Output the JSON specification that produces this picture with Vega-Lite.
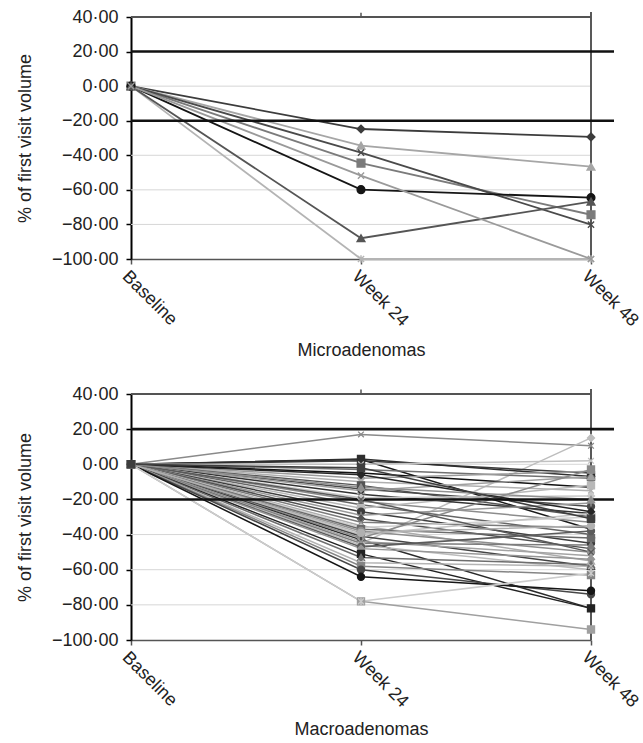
{
  "$schema": "https://vega.github.io/schema/vega-lite/v6.json",
  "padding": {"left": 16, "top": 8, "right": 0, "bottom": 0},
  "spacing": 25,
  "config": {
    "view": {"stroke": null},
    "font": "Liberation Sans",
    "axis": {"labelFont": "Liberation Sans", "titleFont": "Liberation Sans", "labelOverlap": false},
    "axisY": {"titleFontSize": 18, "titleFontWeight": "normal", "titleColor": "#222", "titlePadding": 17,
      "values": [-100, -80, -60, -40, -20, 0, 20, 40], "labelOverlap": false, "labelFlush": false, "labelExpr": "replace(format(datum.value, '.2f'), '.', '·')",
      "labelFontSize": 18, "labelColor": "#222", "labelPadding": 8, "domainColor": "#000", "domainWidth": 2, "tickColor": "#000", "tickWidth": 1.5, "tickSize": 5, "grid": false},
    "axisX": {"titleX": 230, "titleAlign": "center", "titleFontSize": 18, "titleFontWeight": "normal", "titleColor": "#222",
      "labelAngle": 45, "labelAlign": "left", "labelBaseline": "top", "labelFontSize": 18, "labelColor": "#222", "labelPadding": 3, "labelOverlap": false,
      "domainColor": "#555", "domainWidth": 1.5, "tickColor": "#555", "tickWidth": 1.5, "tickSize": 5, "grid": false}
  },
  "resolve": {"scale": {"stroke": "independent", "fill": "independent", "shape": "independent"}},
  "vconcat": [
    {
      "width": 483,
      "height": 242,
      "data": {"values": [
        {"series": "m1", "visit": "Baseline", "value": 0}, {"series": "m1", "visit": "Week 24", "value": -24.8}, {"series": "m1", "visit": "Week 48", "value": -29.4},
        {"series": "m2", "visit": "Baseline", "value": 0}, {"series": "m2", "visit": "Week 24", "value": -44.5}, {"series": "m2", "visit": "Week 48", "value": -74.4},
        {"series": "m3", "visit": "Baseline", "value": 0}, {"series": "m3", "visit": "Week 24", "value": -34.4}, {"series": "m3", "visit": "Week 48", "value": -46.6},
        {"series": "m4", "visit": "Baseline", "value": 0}, {"series": "m4", "visit": "Week 24", "value": -38.5}, {"series": "m4", "visit": "Week 48", "value": -80.1},
        {"series": "m5", "visit": "Baseline", "value": 0}, {"series": "m5", "visit": "Week 24", "value": -100}, {"series": "m5", "visit": "Week 48", "value": -100},
        {"series": "m6", "visit": "Baseline", "value": 0}, {"series": "m6", "visit": "Week 24", "value": -59.9}, {"series": "m6", "visit": "Week 48", "value": -64.5},
        {"series": "m7", "visit": "Baseline", "value": 0}, {"series": "m7", "visit": "Week 24", "value": -88}, {"series": "m7", "visit": "Week 48", "value": -66.8},
        {"series": "m8", "visit": "Baseline", "value": 0}, {"series": "m8", "visit": "Week 24", "value": -51.8}, {"series": "m8", "visit": "Week 48", "value": -100}
      ]},
      "layer": [
        {
          "data": {"values": [{"g": 0}, {"g": -40}, {"g": -60}, {"g": -80}]},
          "mark": {"type": "rule", "color": "#d6d6d6", "strokeWidth": 1},
          "encoding": {
            "y": {"field": "g", "type": "quantitative", "scale": {"domain": [-100, 40], "nice": false, "zero": false}, "title": "% of first visit volume"},
            "x": {"datum": "Baseline", "type": "ordinal", "scale": {"type": "point", "domain": ["Baseline", "Week 24", "Week 48"], "range": [0, 460], "padding": 0},
              "title": "Microadenomas", "axis": {"titlePadding": 12}},
            "x2": {"datum": "Week 48"}
          }
        },
        {
          "mark": {"type": "rule", "color": "#5a5a5a", "strokeWidth": 1.5},
          "encoding": {
            "x": {"datum": "Week 48", "type": "ordinal", "title": "Microadenomas"},
            "y": {"datum": 42.5, "type": "quantitative", "title": "% of first visit volume"},
            "y2": {"datum": -100}
          }
        },
        {
          "mark": {"type": "rule", "color": "#555555", "strokeWidth": 1.5},
          "encoding": {
            "x": {"datum": "Baseline", "type": "ordinal", "title": "Microadenomas"},
            "x2": {"datum": "Week 48"},
            "y": {"datum": 40, "type": "quantitative", "title": "% of first visit volume"}
          }
        },
        {
          "data": {"values": [{"v": "Week 24"}]},
          "mark": {"type": "rule", "color": "#555555", "strokeWidth": 1.5},
          "encoding": {
            "x": {"field": "v", "type": "ordinal", "title": "Microadenomas"},
            "y": {"datum": 40, "type": "quantitative", "title": "% of first visit volume"},
            "y2": {"datum": 42.5}
          }
        },
        {
          "mark": {"type": "line", "strokeWidth": 1.8},
          "encoding": {
            "x": {"field": "visit", "type": "ordinal", "title": "Microadenomas"},
            "y": {"field": "value", "type": "quantitative", "title": "% of first visit volume"},
            "stroke": {"field": "series", "type": "nominal", "legend": null,
              "scale": {"domain": ["m1","m2","m3","m4","m5","m6","m7","m8"], "range": ["#3c3c3c","#7b7b7b","#a6a6a6","#4a4a4a","#b4b4b4","#151515","#555555","#9a9a9a"]}},
            "detail": {"field": "series"}
          }
        },
        {
          "data": {"values": [{"t": 20}, {"t": -20}]},
          "mark": {"type": "rule", "color": "#111", "strokeWidth": 2.6},
          "encoding": {"y": {"field": "t", "type": "quantitative", "title": "% of first visit volume"}}
        },
        {
          "mark": {"type": "point", "filled": true, "opacity": 1, "size": 60, "strokeWidth": 1.4},
          "encoding": {
            "x": {"field": "visit", "type": "ordinal", "title": "Microadenomas"},
            "y": {"field": "value", "type": "quantitative", "title": "% of first visit volume"},
            "shape": {"field": "series", "type": "nominal", "legend": null,
              "scale": {"domain": ["m1","m2","m3","m4","m5","m6","m7","m8"], "range": ["diamond","square","triangle-up","M-0.8,-0.8L0.8,0.8M-0.8,0.8L0.8,-0.8","M-0.8,-0.8L0.8,0.8M-0.8,0.8L0.8,-0.8M0,-1L0,1","circle","triangle-up","M-0.8,-0.8L0.8,0.8M-0.8,0.8L0.8,-0.8"]}},
            "fill": {"field": "series", "type": "nominal", "legend": null,
              "scale": {"domain": ["m1","m2","m3","m4","m5","m6","m7","m8"], "range": ["#3c3c3c","#7b7b7b","#a6a6a6","#4a4a4a","#b4b4b4","#151515","#555555","#9a9a9a"]}},
            "stroke": {"field": "series", "type": "nominal", "legend": null}
          }
        }
      ]
    },
    {
      "width": 483,
      "height": 246,
      "data": {"values": [
        {"series":"b01","visit":"Baseline","value":0},{"series":"b01","visit":"Week 24","value":17},{"series":"b01","visit":"Week 48","value":10.5},
        {"series":"b02","visit":"Baseline","value":0},{"series":"b02","visit":"Week 24","value":-45},{"series":"b02","visit":"Week 48","value":15},
        {"series":"b03","visit":"Baseline","value":0},{"series":"b03","visit":"Week 24","value":2.7},{"series":"b03","visit":"Week 48","value":-37},
        {"series":"b04","visit":"Baseline","value":0},{"series":"b04","visit":"Week 24","value":2},{"series":"b04","visit":"Week 48","value":-5},
        {"series":"b05","visit":"Baseline","value":0},{"series":"b05","visit":"Week 24","value":3},{"series":"b05","visit":"Week 48","value":-7},
        {"series":"b06","visit":"Baseline","value":0},{"series":"b06","visit":"Week 24","value":0},{"series":"b06","visit":"Week 48","value":2},
        {"series":"b07","visit":"Baseline","value":0},{"series":"b07","visit":"Week 24","value":-3},{"series":"b07","visit":"Week 48","value":-8},
        {"series":"b08","visit":"Baseline","value":0},{"series":"b08","visit":"Week 24","value":-5},{"series":"b08","visit":"Week 48","value":-13},
        {"series":"b09","visit":"Baseline","value":0},{"series":"b09","visit":"Week 24","value":-8},{"series":"b09","visit":"Week 48","value":-4},
        {"series":"b10","visit":"Baseline","value":0},{"series":"b10","visit":"Week 24","value":-10},{"series":"b10","visit":"Week 48","value":-15},
        {"series":"b11","visit":"Baseline","value":0},{"series":"b11","visit":"Week 24","value":-12},{"series":"b11","visit":"Week 48","value":-30},
        {"series":"b12","visit":"Baseline","value":0},{"series":"b12","visit":"Week 24","value":-14},{"series":"b12","visit":"Week 48","value":-24},
        {"series":"b13","visit":"Baseline","value":0},{"series":"b13","visit":"Week 24","value":-15},{"series":"b13","visit":"Week 48","value":-7},
        {"series":"b14","visit":"Baseline","value":0},{"series":"b14","visit":"Week 24","value":-17},{"series":"b14","visit":"Week 48","value":-28},
        {"series":"b15","visit":"Baseline","value":0},{"series":"b15","visit":"Week 24","value":-19},{"series":"b15","visit":"Week 48","value":-18},
        {"series":"b16","visit":"Baseline","value":0},{"series":"b16","visit":"Week 24","value":-21},{"series":"b16","visit":"Week 48","value":-33},
        {"series":"b17","visit":"Baseline","value":0},{"series":"b17","visit":"Week 24","value":-23},{"series":"b17","visit":"Week 48","value":-40},
        {"series":"b18","visit":"Baseline","value":0},{"series":"b18","visit":"Week 24","value":-25},{"series":"b18","visit":"Week 48","value":-12},
        {"series":"b19","visit":"Baseline","value":0},{"series":"b19","visit":"Week 24","value":-27},{"series":"b19","visit":"Week 48","value":-45},
        {"series":"b20","visit":"Baseline","value":0},{"series":"b20","visit":"Week 24","value":-29},{"series":"b20","visit":"Week 48","value":-22},
        {"series":"b21","visit":"Baseline","value":0},{"series":"b21","visit":"Week 24","value":-31},{"series":"b21","visit":"Week 48","value":-48},
        {"series":"b22","visit":"Baseline","value":0},{"series":"b22","visit":"Week 24","value":-33},{"series":"b22","visit":"Week 48","value":-36},
        {"series":"b23","visit":"Baseline","value":0},{"series":"b23","visit":"Week 24","value":-35},{"series":"b23","visit":"Week 48","value":-55},
        {"series":"b24","visit":"Baseline","value":0},{"series":"b24","visit":"Week 24","value":-36},{"series":"b24","visit":"Week 48","value":-30},
        {"series":"b25","visit":"Baseline","value":0},{"series":"b25","visit":"Week 24","value":-37},{"series":"b25","visit":"Week 48","value":-42},
        {"series":"b26","visit":"Baseline","value":0},{"series":"b26","visit":"Week 24","value":-38},{"series":"b26","visit":"Week 48","value":-50},
        {"series":"b27","visit":"Baseline","value":0},{"series":"b27","visit":"Week 24","value":-40},{"series":"b27","visit":"Week 48","value":-28},
        {"series":"b28","visit":"Baseline","value":0},{"series":"b28","visit":"Week 24","value":-41},{"series":"b28","visit":"Week 48","value":-58},
        {"series":"b29","visit":"Baseline","value":0},{"series":"b29","visit":"Week 24","value":-42},{"series":"b29","visit":"Week 48","value":-3},
        {"series":"b30","visit":"Baseline","value":0},{"series":"b30","visit":"Week 24","value":-43},{"series":"b30","visit":"Week 48","value":-82},
        {"series":"b31","visit":"Baseline","value":0},{"series":"b31","visit":"Week 24","value":-44},{"series":"b31","visit":"Week 48","value":-52},
        {"series":"b32","visit":"Baseline","value":0},{"series":"b32","visit":"Week 24","value":-45},{"series":"b32","visit":"Week 48","value":-46},
        {"series":"b33","visit":"Baseline","value":0},{"series":"b33","visit":"Week 24","value":-46},{"series":"b33","visit":"Week 48","value":-60},
        {"series":"b34","visit":"Baseline","value":0},{"series":"b34","visit":"Week 24","value":-47},{"series":"b34","visit":"Week 48","value":-38},
        {"series":"b35","visit":"Baseline","value":0},{"series":"b35","visit":"Week 24","value":-48},{"series":"b35","visit":"Week 48","value":-54},
        {"series":"b36","visit":"Baseline","value":0},{"series":"b36","visit":"Week 24","value":-51},{"series":"b36","visit":"Week 48","value":-82},
        {"series":"b37","visit":"Baseline","value":0},{"series":"b37","visit":"Week 24","value":-53},{"series":"b37","visit":"Week 48","value":-57},
        {"series":"b38","visit":"Baseline","value":0},{"series":"b38","visit":"Week 24","value":-56},{"series":"b38","visit":"Week 48","value":-58},
        {"series":"b39","visit":"Baseline","value":0},{"series":"b39","visit":"Week 24","value":-58},{"series":"b39","visit":"Week 48","value":-63},
        {"series":"b40","visit":"Baseline","value":0},{"series":"b40","visit":"Week 24","value":-60},{"series":"b40","visit":"Week 48","value":-74},
        {"series":"b41","visit":"Baseline","value":0},{"series":"b41","visit":"Week 24","value":-64},{"series":"b41","visit":"Week 48","value":-72},
        {"series":"b42","visit":"Baseline","value":0},{"series":"b42","visit":"Week 24","value":-78},{"series":"b42","visit":"Week 48","value":-94},
        {"series":"b43","visit":"Baseline","value":0},{"series":"b43","visit":"Week 24","value":-78},{"series":"b43","visit":"Week 48","value":-62},
        {"series":"b44","visit":"Baseline","value":0},{"series":"b44","visit":"Week 24","value":-6},{"series":"b44","visit":"Week 48","value":-27},
        {"series":"b45","visit":"Baseline","value":0},{"series":"b45","visit":"Week 24","value":-20},{"series":"b45","visit":"Week 48","value":-50},
        {"series":"b46","visit":"Baseline","value":0},{"series":"b46","visit":"Week 24","value":-39},{"series":"b46","visit":"Week 48","value":-35},
        {"series":"b47","visit":"Baseline","value":0},{"series":"b47","visit":"Week 24","value":-13},{"series":"b47","visit":"Week 48","value":-20},
        {"series":"b48","visit":"Baseline","value":0},{"series":"b48","visit":"Week 24","value":-2},{"series":"b48","visit":"Week 48","value":-31}
      ]},
      "layer": [
        {
          "data": {"values": [{"g": 0}, {"g": -40}, {"g": -60}, {"g": -80}]},
          "mark": {"type": "rule", "color": "#d6d6d6", "strokeWidth": 1},
          "encoding": {
            "y": {"field": "g", "type": "quantitative", "scale": {"domain": [-100, 40], "nice": false, "zero": false}, "title": "% of first visit volume"},
            "x": {"datum": "Baseline", "type": "ordinal", "scale": {"type": "point", "domain": ["Baseline", "Week 24", "Week 48"], "range": [0, 460], "padding": 0},
              "title": "Macroadenomas", "axis": {"titlePadding": 10}},
            "x2": {"datum": "Week 48"}
          }
        },
        {
          "mark": {"type": "rule", "color": "#5a5a5a", "strokeWidth": 1.5},
          "encoding": {
            "x": {"datum": "Week 48", "type": "ordinal", "title": "Macroadenomas"},
            "y": {"datum": 42.5, "type": "quantitative", "title": "% of first visit volume"},
            "y2": {"datum": -100}
          }
        },
        {
          "mark": {"type": "rule", "color": "#555555", "strokeWidth": 1.5},
          "encoding": {
            "x": {"datum": "Baseline", "type": "ordinal", "title": "Macroadenomas"},
            "x2": {"datum": "Week 48"},
            "y": {"datum": 40, "type": "quantitative", "title": "% of first visit volume"}
          }
        },
        {
          "data": {"values": [{"v": "Week 24"}]},
          "mark": {"type": "rule", "color": "#555555", "strokeWidth": 1.5},
          "encoding": {
            "x": {"field": "v", "type": "ordinal", "title": "Macroadenomas"},
            "y": {"datum": 40, "type": "quantitative", "title": "% of first visit volume"},
            "y2": {"datum": 42.5}
          }
        },
        {
          "mark": {"type": "line", "strokeWidth": 1.5},
          "encoding": {
            "x": {"field": "visit", "type": "ordinal", "title": "Macroadenomas"},
            "y": {"field": "value", "type": "quantitative", "title": "% of first visit volume"},
            "stroke": {"field": "series", "type": "nominal", "legend": null,
              "scale": {"range": ["#8a8a8a","#bdbdbd","#1a1a1a","#3a3a3a","#2e2e2e","#c0c0c0","#707070","#111111","#9a9a9a","#b0b0b0","#555555","#4a4a4a","#a0a0a0","#333333","#c8c8c8","#8c8c8c","#666666","#b8b8b8","#3d3d3d","#999999","#505050","#7a7a7a","#acacac","#d0d0d0","#6a6a6a","#8e8e8e","#c4c4c4","#444444","#8a8a8a","#2a2a2a","#a4a4a4","#7c7c7c","#bcbcbc","#5c5c5c","#969696","#222222","#6e6e6e","#b4b4b4","#858585","#474747","#161616","#a0a0a0","#cccccc","#262626","#595959","#b0b0b0","#909090","#3e3e3e"]}},
            "detail": {"field": "series"}
          }
        },
        {
          "data": {"values": [{"t": 20}, {"t": -20}]},
          "mark": {"type": "rule", "color": "#111", "strokeWidth": 2.6},
          "encoding": {"y": {"field": "t", "type": "quantitative", "title": "% of first visit volume"}}
        },
        {
          "mark": {"type": "point", "filled": true, "opacity": 1, "size": 50, "strokeWidth": 1.3},
          "encoding": {
            "x": {"field": "visit", "type": "ordinal", "title": "Macroadenomas"},
            "y": {"field": "value", "type": "quantitative", "title": "% of first visit volume"},
            "shape": {"field": "series", "type": "nominal", "legend": null,
              "scale": {"range": ["M-0.8,-0.8L0.8,0.8M-0.8,0.8L0.8,-0.8","diamond","M-0.8,-0.8L0.8,0.8M-0.8,0.8L0.8,-0.8","triangle-up","square","M-0.8,-0.8L0.8,0.8M-0.8,0.8L0.8,-0.8","circle","M-1,0L1,0M0,-1L0,1","diamond","M-0.8,-0.8L0.8,0.8M-0.8,0.8L0.8,-0.8M0,-1L0,1","square","circle","triangle-up","M-0.8,-0.8L0.8,0.8M-0.8,0.8L0.8,-0.8","diamond","M-0.8,-0.8L0.8,0.8M-0.8,0.8L0.8,-0.8M0,-1L0,1","triangle-up","square","circle","M-1,0L1,0M0,-1L0,1","diamond","M-0.8,-0.8L0.8,0.8M-0.8,0.8L0.8,-0.8","triangle-up","M-0.8,-0.8L0.8,0.8M-0.8,0.8L0.8,-0.8M0,-1L0,1","square","circle","diamond","triangle-up","square","M-1,0L1,0M0,-1L0,1","M-0.8,-0.8L0.8,0.8M-0.8,0.8L0.8,-0.8","triangle-up","M-0.8,-0.8L0.8,0.8M-0.8,0.8L0.8,-0.8M0,-1L0,1","circle","diamond","square","triangle-up","M-0.8,-0.8L0.8,0.8M-0.8,0.8L0.8,-0.8","square","circle","circle","square","M-0.8,-0.8L0.8,0.8M-0.8,0.8L0.8,-0.8M0,-1L0,1","diamond","M-0.8,-0.8L0.8,0.8M-0.8,0.8L0.8,-0.8","circle","triangle-up","square"]}},
            "fill": {"field": "series", "type": "nominal", "legend": null,
              "scale": {"range": ["#8a8a8a","#bdbdbd","#1a1a1a","#3a3a3a","#2e2e2e","#c0c0c0","#707070","#111111","#9a9a9a","#b0b0b0","#555555","#4a4a4a","#a0a0a0","#333333","#c8c8c8","#8c8c8c","#666666","#b8b8b8","#3d3d3d","#999999","#505050","#7a7a7a","#acacac","#d0d0d0","#6a6a6a","#8e8e8e","#c4c4c4","#444444","#8a8a8a","#2a2a2a","#a4a4a4","#7c7c7c","#bcbcbc","#5c5c5c","#969696","#222222","#6e6e6e","#b4b4b4","#858585","#474747","#161616","#a0a0a0","#cccccc","#262626","#595959","#b0b0b0","#909090","#3e3e3e"]}},
            "stroke": {"field": "series", "type": "nominal", "legend": null}
          }
        }
      ]
    }
  ]
}
